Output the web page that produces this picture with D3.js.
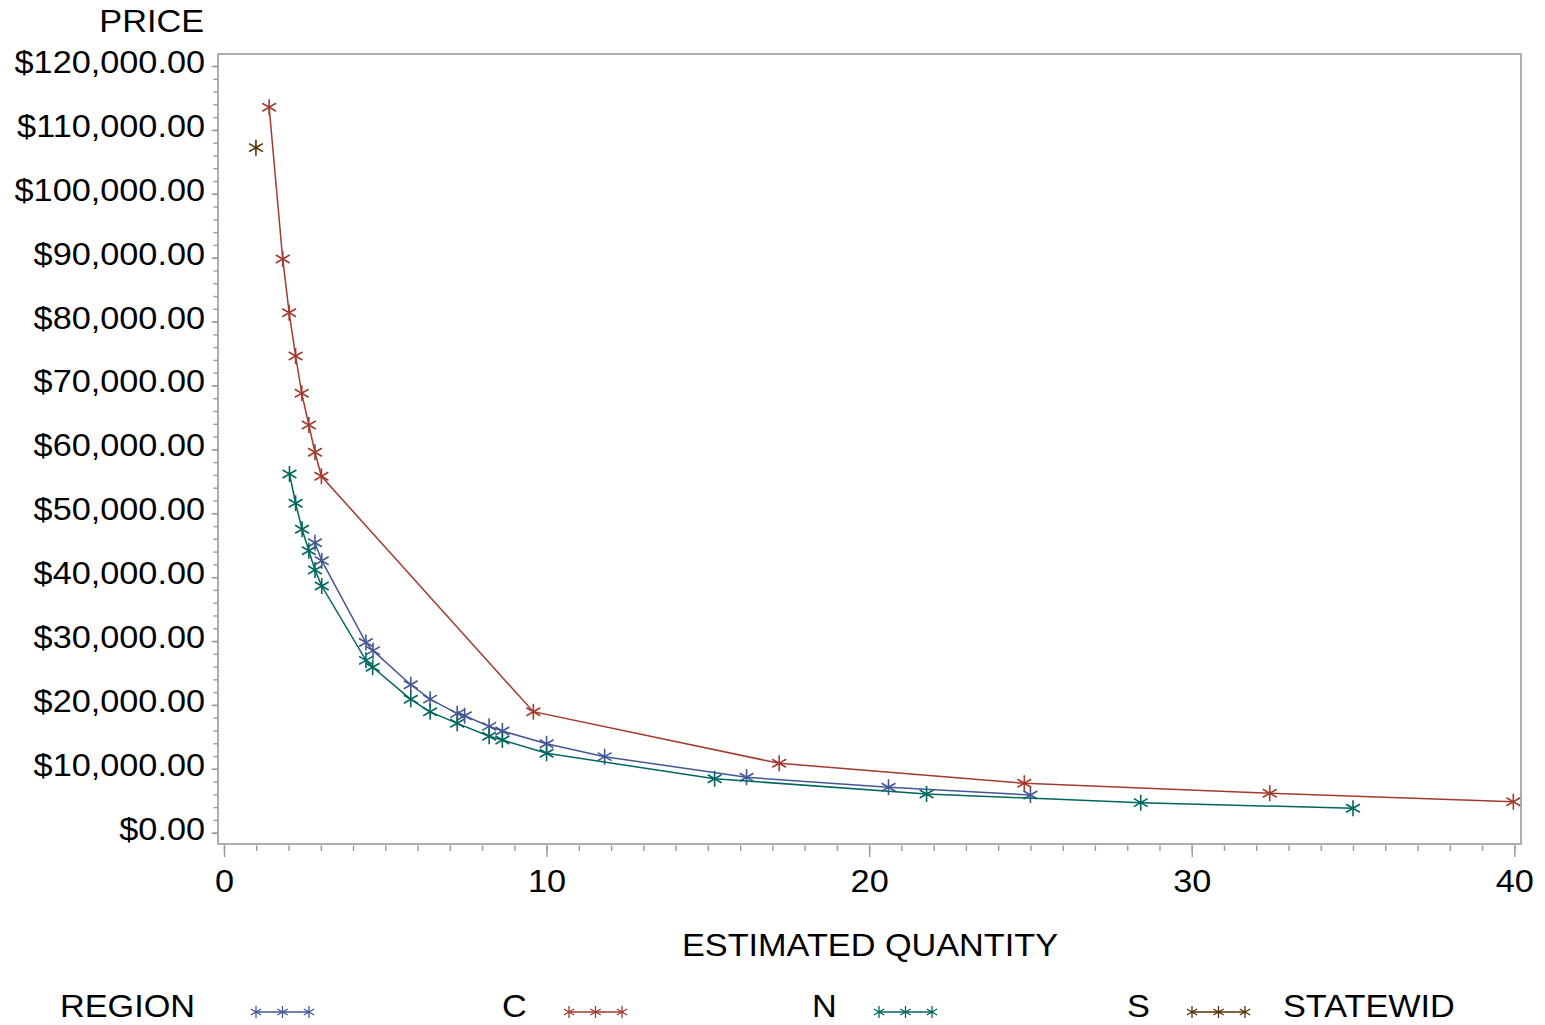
<!DOCTYPE html>
<html>
<head>
<meta charset="utf-8">
<script src="https://cdn.jsdelivr.net/npm/d3@7"></script>
<style>
  html, body { margin: 0; padding: 0; background: #fff; }
  svg { display: block; font-family: "Liberation Sans", Arial, sans-serif; }
</style>
</head>
<body>
<svg id="chart" width="1545" height="1025"></svg>
<script>
// ---- Data ----
const regions = ["C", "N", "S", "STATEWID"];
const regionColors = ["#445694", "#A23A2E", "#01665E", "#543005"];

const qtyC = [2.82, 3.03, 4.40, 4.62, 5.79, 6.39, 7.23, 7.46, 8.22, 8.63, 10.0, 11.8, 16.2, 20.6, 25.0];
const priceC = [45390, 42570, 29770, 28490, 23160, 20900, 18630, 18310, 16650, 15920, 13930, 11900, 8670, 7110, 5900];

const qtyN = [1.40, 1.82, 2.02, 2.22, 2.41, 2.63, 2.82, 3.02, 9.59, 17.21, 24.81, 32.42, 39.97];
const priceN = [113540, 89800, 81390, 74610, 68770, 63810, 59540, 55780, 18940, 10860, 7730, 6170, 4850];

const qtyS = [2.03, 2.22, 2.42, 2.63, 2.82, 3.03, 4.40, 4.61, 5.79, 6.39, 7.23, 8.22, 8.63, 10.0, 15.21, 21.78, 28.42, 35.0];
const priceS = [56140, 51560, 47490, 44140, 41120, 38610, 26980, 25890, 20880, 18920, 17120, 15090, 14510, 12430, 8450, 6060, 4700, 3820];

const qtyStatewide = [0.99];
const priceStatewide = [107220];

const xTicks = [0, 10, 20, 30, 40];
const yTicks = [0, 10000, 20000, 30000, 40000, 50000, 60000, 70000, 80000, 90000, 100000, 110000, 120000];
const xTitle = "ESTIMATED QUANTITY";
const yTitle = "PRICE";
const legendTitle = "REGION";

const seriesQty = [qtyC, qtyN, qtyS, qtyStatewide];
const seriesPrice = [priceC, priceN, priceS, priceStatewide];

// ---- Layout ----
const svg = d3.select("#chart");
const frame = { left: 218, right: 1521, top: 54, bottom: 844 };
const fontSize = 31;
const stretch = 1.105;
const gray = "#9a9a9a";

function placeText(sel, px, py, anchor) {
  sel.attr("x", 0).attr("y", 0).attr("dy", 0)
    .attr("text-anchor", anchor)
    .attr("transform", `translate(${px},${py}) scale(${stretch},1)`)
    .attr("fill", "#000").attr("font-size", fontSize)
    .attr("font-family", "'Liberation Sans', Arial, sans-serif");
  return sel;
}

const x = d3.scaleLinear().domain([0, 40]).range([224, 1514.3]);
const y = d3.scaleLinear().domain([0, 120000]).range([832.7, 66]);

// frame
svg.append("rect")
  .attr("x", frame.left).attr("y", frame.top)
  .attr("width", frame.right - frame.left).attr("height", frame.bottom - frame.top)
  .attr("fill", "none").attr("stroke", gray).attr("stroke-width", 1.6);

// ---- Y axis ----
const fmt = v => "$" + d3.format(",.2f")(v);
const yMinor = svg.append("g").attr("transform", `translate(${frame.left},0)`)
  .call(d3.axisLeft(y).tickValues(d3.range(0, 120001, 2000)).tickSize(4.5).tickFormat(""));
yMinor.select(".domain").remove();
yMinor.selectAll("line").attr("stroke", gray).attr("stroke-width", 1.4);

const yAxis = svg.append("g").attr("transform", `translate(${frame.left},0)`)
  .call(d3.axisLeft(y).tickValues(yTicks).tickSize(6.5).tickFormat(fmt));
yAxis.select(".domain").remove();
yAxis.selectAll("line").attr("stroke", gray).attr("stroke-width", 1.4);
yAxis.selectAll("text").each(function () { placeText(d3.select(this), -13, 6.5, "end"); });

// ---- X axis ----
const xMinor = svg.append("g").attr("transform", `translate(0,${frame.bottom + 1.5})`)
  .call(d3.axisBottom(x).tickValues(d3.range(0, 41, 1)).tickSize(5.5).tickFormat(""));
xMinor.select(".domain").remove();
xMinor.selectAll("line").attr("stroke", gray).attr("stroke-width", 1.4);

const xAxis = svg.append("g").attr("transform", `translate(0,${frame.bottom + 1.5})`)
  .call(d3.axisBottom(x).tickValues(xTicks).tickSize(11.5).tickFormat(d3.format("d")));
xAxis.select(".domain").remove();
xAxis.selectAll("line").attr("stroke", gray).attr("stroke-width", 1.4);
xAxis.selectAll("text").each(function () { placeText(d3.select(this), 0, 46.5, "middle"); });

// titles
placeText(svg.append("text").text(yTitle), 204, 32, "end");
placeText(svg.append("text").text(xTitle), 870, 956, "middle");

// ---- marker ----
function star(g, cx, cy, r, color, sw) {
  const dx = r * Math.cos(Math.PI / 6), dy = r * Math.sin(Math.PI / 6);
  const p = `M${cx},${cy - r}L${cx},${cy + r}M${cx - dx},${cy - dy}L${cx + dx},${cy + dy}M${cx - dx},${cy + dy}L${cx + dx},${cy - dy}`;
  g.append("path").attr("d", p).attr("stroke", color).attr("stroke-width", sw).attr("fill", "none");
}

// ---- series ----
const line = d3.line().x(d => x(d[0])).y(d => y(d[1]));
regions.forEach((r, i) => {
  const pts = seriesQty[i].map((q, j) => [q, seriesPrice[i][j]]);
  const g = svg.append("g");
  if (pts.length > 1) {
    g.append("path").datum(pts).attr("d", line)
      .attr("fill", "none").attr("stroke", regionColors[i]).attr("stroke-width", 1.5);
  }
  pts.forEach(p => star(g, x(p[0]), y(p[1]), 8, regionColors[i], 1.6));
});

// ---- legend ----
const legendY = 1012;
placeText(svg.append("text").text(legendTitle), 60, 1017, "start");
const sampleX = [250, 563, 873, 1186];
const labelX = [502, 812, 1127, 1283];
regions.forEach((r, i) => {
  const g = svg.append("g");
  const x0 = sampleX[i] + 6, x1 = sampleX[i] + 59;
  g.append("line").attr("x1", x0).attr("x2", x1).attr("y1", legendY).attr("y2", legendY)
    .attr("stroke", regionColors[i]).attr("stroke-width", 1.5);
  [x0, (x0 + x1) / 2, x1].forEach(cx => star(g, cx, legendY, 6, regionColors[i], 1.3));
  placeText(svg.append("text").text(r), labelX[i], 1017, "start");
});
</script>
</body>
</html>
